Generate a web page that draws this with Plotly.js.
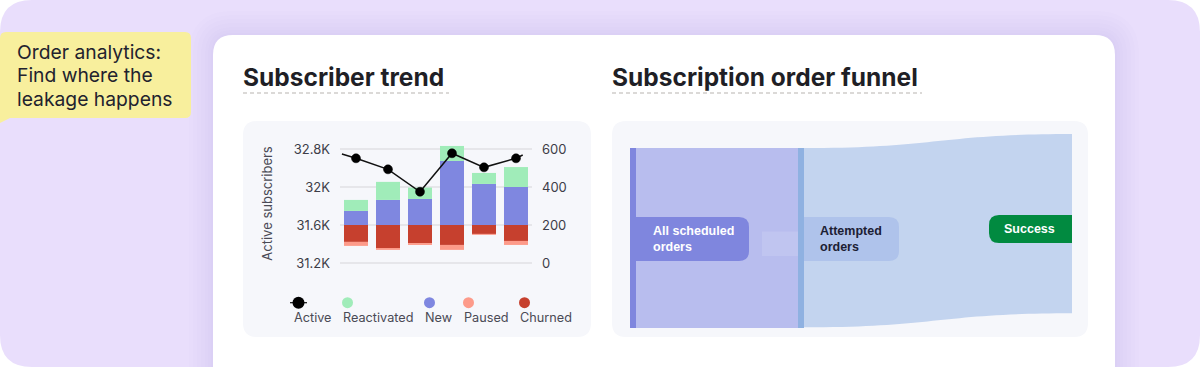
<!DOCTYPE html>
<html><head><meta charset="utf-8">
<script src="https://cdn.plot.ly/plotly-3.0.1.min.js"></script>
<style>html,body{margin:0;padding:0;background:#fff;overflow:hidden}#chart{width:1200px;height:367px}</style>
</head><body><div id="chart"></div>
<script>
// ---------------- data ----------------
const periods = ['P1', 'P2', 'P3', 'P4', 'P5', 'P6'];
const activeSubscribers = [32302, 32186, 31950, 32355, 32207, 32302];
const activeBefore = 32347;   // line continues a little past the first / last period
const activeAfter = 32337;
const reactivated = [58, 95, 60, 79, 58, 105];
const newSubs = [74, 132, 137, 337, 216, 200];
const paused = [21, 10, 10, 26, 5, 21];
const churned = [89, 121, 95, 105, 47, 84];
const leftTickVals = [31200, 31600, 32000, 32400];
const leftTickText = ['31.2K', '31.6K', '32K', '32.8K'];
const rightTickVals = [-200, 0, 200, 400];
const rightTickText = ['0', '200', '400', '600'];
const seriesNames = ['Active', 'Reactivated', 'New', 'Paused', 'Churned'];
const funnelStages = ['All scheduled orders', 'Attempted orders', 'Success'];
const funnelFlows = [1000, 996];
const noteText = ['Order analytics:', 'Find where the', 'leakage happens'];
const titles = ['Subscriber trend', 'Subscription order funnel'];

// ---------------- helpers ----------------
const W = 1200, H = 367;
const X = px => +(px / W).toFixed(5);
const Y = py => +(1 - py / H).toFixed(5);
const P = (x, y) => X(x) + ',' + Y(y);
function rr(x0, y0, x1, y1, r) {
  const [tl, tr, br, bl] = Array.isArray(r) ? r : [r, r, r, r];
  return 'M' + P(x0 + tl, y0) + ' L' + P(x1 - tr, y0) + ' Q' + P(x1, y0) + ' ' + P(x1, y0 + tr) +
    ' L' + P(x1, y1 - br) + ' Q' + P(x1, y1) + ' ' + P(x1 - br, y1) +
    ' L' + P(x0 + bl, y1) + ' Q' + P(x0, y1) + ' ' + P(x0, y1 - bl) +
    ' L' + P(x0, y0 + tl) + ' Q' + P(x0, y0) + ' ' + P(x0 + tl, y0) + ' Z';
}
const pathShape = (path, fill, layer) => ({type: 'path', xref: 'paper', yref: 'paper', path, fillcolor: fill, line: {width: 0}, layer: layer || 'below'});
const FONT = 'Inter, "Noto Sans", sans-serif';
const ARIAL = '"Liberation Sans", Arial, sans-serif';

const colors = {Active: '#000000', Reactivated: '#a0ecb9', New: '#7f87e0', Paused: '#fd9b8a', Churned: '#c6402e'};
const xIdx = periods.map((_, i) => i);

// ---------------- traces ----------------
const traces = [
  {type: 'bar', name: 'New', x: xIdx, y: newSubs, yaxis: 'y', marker: {color: colors.New}, hoverinfo: 'skip'},
  {type: 'bar', name: 'Reactivated', x: xIdx, y: reactivated, yaxis: 'y', marker: {color: colors.Reactivated}, hoverinfo: 'skip'},
  {type: 'bar', name: 'Churned', x: xIdx, y: churned.map(v => -v), yaxis: 'y', marker: {color: colors.Churned}, hoverinfo: 'skip'},
  {type: 'bar', name: 'Paused', x: xIdx, y: paused.map(v => -v), yaxis: 'y', marker: {color: colors.Paused}, hoverinfo: 'skip'},
  {type: 'scatter', mode: 'lines+markers', name: 'Active', yaxis: 'y2',
    x: [-0.44].concat(xIdx, [5.21]), y: [activeBefore].concat(activeSubscribers, [activeAfter]),
    line: {color: '#111', width: 1.5}, marker: {color: colors.Active, size: [0, 9, 9, 9, 9, 9, 9, 0], opacity: 1, line: {width: 0.5, color: '#000'}}, hoverinfo: 'skip'},
  {type: 'sankey', arrangement: 'fixed', hoverinfo: 'none',
    domain: {x: [X(627), X(1078)], y: [Y(328), Y(148)]},
    node: {label: funnelStages.map(() => ''), thickness: 6, pad: 10, line: {width: 0},
      color: ['#7f86de', '#8fb1e1', 'rgba(0,0,0,0)'],
      x: [6 / 451, 174 / 451, 448 / 451], y: [0.5, 0.5, 0.4203], hoverinfo: 'none'},
    link: {source: [0, 1], target: [1, 2], value: funnelFlows, color: ['#b8bdee', '#c3d4ef'], line: {width: 0}, hoverinfo: 'none'}}
];

// ---------------- shapes ----------------
const shapes = [];
shapes.push(pathShape(rr(0, 0, 1200, 367, 32), '#e9defc'));
[24, 20, 16, 12, 8, 5, 2].forEach(k => shapes.push(pathShape(rr(213 - k, 35 - k, 1115 + k, 420, [20 + k, 20 + k, 0, 0]), 'rgba(120,90,190,0.012)')));
shapes.push(pathShape(rr(213, 35, 1115, 420, [20, 20, 0, 0]), '#ffffff'));
// sticky note
shapes.push(pathShape('M' + P(6, 32) + ' L' + P(185, 32) + ' Q' + P(191, 32) + ' ' + P(191, 38) + ' L' + P(191, 112) +
  ' Q' + P(191, 118) + ' ' + P(185, 118) + ' L' + P(10, 118) + ' L' + P(0, 123) + ' L' + P(0, 38) + ' Q' + P(0, 32) + ' ' + P(6, 32) + ' Z', '#f8ef9d'));
// panels
shapes.push(pathShape(rr(243, 121, 591, 337, 14), '#f6f7fb'));
shapes.push(pathShape(rr(612, 121, 1088, 337, 14), '#f6f7fb'));
// dashed title underlines
[[243, 449], [612, 922]].forEach(([a, b]) => shapes.push({type: 'line', xref: 'paper', yref: 'paper', x0: X(a), x1: X(b), y0: Y(93), y1: Y(93), line: {color: '#cfcdca', width: 1.5, dash: '4px,3px'}, layer: 'below'}));
// funnel label boxes
shapes.push({type: 'rect', xref: 'paper', yref: 'paper', x0: X(762), x1: X(798), y0: Y(256), y1: Y(231.5), fillcolor: 'rgba(255,255,255,0.12)', line: {width: 0}, layer: 'above'});
shapes.push(pathShape(rr(636, 217, 749, 261, [0, 10, 10, 0]), '#7f86de', 'above'));
shapes.push(pathShape(rr(804, 217, 899, 261, [0, 10, 10, 0]), '#afc3eb', 'above'));
shapes.push(pathShape(rr(989, 215, 1072, 243, [10, 0, 0, 10]), '#018a40', 'above'));
// custom legend markers
const legendLabelX = [293, 342, 424, 463, 519];
const legY = 302.7, legTextY = 317.5;
seriesNames.forEach((n, i) => {
  const cx = legendLabelX[i] + 5.5;
  if (n === 'Active') {
    shapes.push({type: 'line', xref: 'paper', yref: 'paper', x0: X(290), x1: X(307), y0: Y(legY), y1: Y(legY), line: {color: '#111', width: 1.2}, layer: 'above'});
  }
  const r = n === 'Active' ? 6 : 5.5;
  shapes.push({type: 'circle', xref: 'paper', yref: 'paper', x0: X(cx - r), x1: X(cx + r), y0: Y(legY + r), y1: Y(legY - r), fillcolor: colors[n], line: {width: 0}, layer: 'above'});
});

// ---------------- annotations ----------------
const ann = (text, x, y, opts) => Object.assign({text, xref: 'paper', yref: 'paper', x: X(x), y: Y(y), showarrow: false, xanchor: 'left', yanchor: 'middle', align: 'left', borderpad: 0}, opts || {});
const wrap = s => { const i = s.lastIndexOf(' '); return i > 0 ? s.slice(0, i) + '<br>' + s.slice(i + 1) : s; };
const annotations = [
  ann(titles[0], 242, 77, {font: {family: FONT, size: 24.5, color: '#1f1f26', weight: 700}}),
  ann(titles[1], 611, 77, {font: {family: FONT, size: 24.5, color: '#1f1f26', weight: 700}}),
  ann('Active subscribers', 266.7, 203, {textangle: -90, xanchor: 'center', font: {family: FONT, size: 13, color: '#4a4a55'}}),
  ann(wrap(funnelStages[0]), 652, 239, {font: {family: ARIAL, size: 12.5, color: '#ffffff', weight: 700}}),
  ann(wrap(funnelStages[1]), 819, 239, {font: {family: ARIAL, size: 12.5, color: '#1c2033', weight: 700}}),
  ann(funnelStages[2], 1030, 229, {xanchor: 'center', font: {family: ARIAL, size: 12.5, color: '#ffffff', weight: 700}})
];
noteText.forEach((t, i) => annotations.push(ann(t, 16, 52 + i * 23.5, {font: {family: FONT, size: 19.3, color: '#22222e'}})));
seriesNames.forEach((n, i) => annotations.push(ann(n, legendLabelX[i], legTextY, {font: {family: FONT, size: 12.7, color: '#4a4a55'}})));

// ---------------- layout ----------------
const layout = {
  width: W, height: H, margin: {l: 0, r: 0, t: 0, b: 0, pad: 0},
  paper_bgcolor: '#ffffff', plot_bgcolor: 'rgba(0,0,0,0)',
  showlegend: false, barmode: 'relative', bargap: 0.25,
  font: {family: FONT, size: 13, color: '#3d3d48'},
  xaxis: {domain: [X(340), X(532)], range: [-0.5, 5.5], showgrid: false, zeroline: false, showticklabels: false, ticks: '', fixedrange: true},
  yaxis: {domain: [Y(270), Y(140)], side: 'right', range: [-236.84, 447.37], tickvals: rightTickVals, ticktext: rightTickText,
    showgrid: true, gridcolor: '#e6e6ea', gridwidth: 2, zeroline: false, ticks: '', ticklabelstandoff: 9,
    tickfont: {family: FONT, size: 13, color: '#3d3d48'}},
  yaxis2: {overlaying: 'y', side: 'left', range: [31126.32, 32494.74], tickvals: leftTickVals, ticktext: leftTickText,
    showgrid: false, zeroline: false, ticks: '', ticklabelstandoff: 9, tickfont: {family: FONT, size: 13, color: '#3d3d48'}},
  shapes, annotations
};

Plotly.newPlot('chart', traces, layout, {displayModeBar: false, staticPlot: true});
</script></body></html>
